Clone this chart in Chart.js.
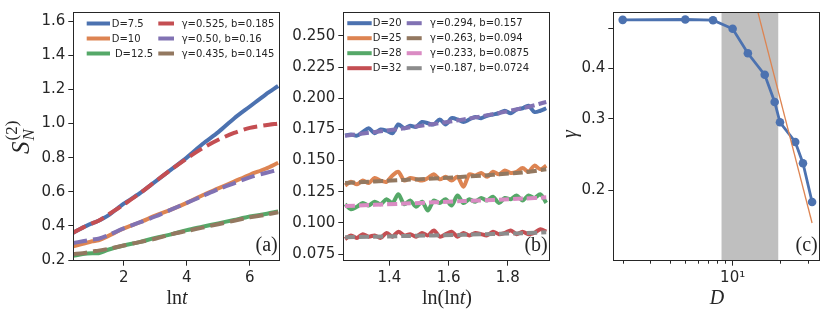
<!DOCTYPE html>
<html>
<head>
<meta charset="utf-8">
<script src="https://cdn.jsdelivr.net/npm/chart.js@4"></script>
<style>
  body { margin: 0; background: #fff; width: 830px; height: 319px; position: relative; overflow: hidden; }
  canvas { position: absolute; top: 0; }
</style>
</head>
<body>
<canvas id="ca" width="290" height="319" style="left:0px"></canvas>
<canvas id="cb" width="270" height="319" style="left:290px"></canvas>
<canvas id="cc" width="270" height="319" style="left:560px"></canvas>
<script>
// ---- panel (a): S vs ln t ----
var xA = [0.4, 0.7, 1.0, 1.2, 1.5, 2, 2.5, 3, 3.5, 4, 4.5, 5, 5.5, 6, 6.5, 6.9];
var sD75 = [0.36, 0.39, 0.415, 0.43, 0.46, 0.53, 0.59, 0.66, 0.73, 0.80, 0.88, 0.95, 1.03, 1.10, 1.17, 1.22];
var sD10 = [0.28, 0.295, 0.31, 0.315, 0.34, 0.385, 0.42, 0.46, 0.495, 0.535, 0.58, 0.62, 0.66, 0.70, 0.735, 0.77];
var sD125 = [0.225, 0.235, 0.24, 0.24, 0.26, 0.285, 0.305, 0.33, 0.35, 0.375, 0.395, 0.415, 0.435, 0.455, 0.47, 0.485];
var fitA1 = [0.36, 0.39, 0.415, 0.43, 0.465, 0.525, 0.59, 0.66, 0.73, 0.795, 0.855, 0.905, 0.945, 0.975, 0.99, 1.0];
var fitA2 = [0.30, 0.31, 0.32, 0.325, 0.345, 0.385, 0.42, 0.455, 0.495, 0.535, 0.575, 0.615, 0.65, 0.685, 0.71, 0.73];
var fitA3 = [0.235, 0.24, 0.25, 0.255, 0.265, 0.285, 0.305, 0.325, 0.35, 0.37, 0.39, 0.41, 0.43, 0.45, 0.465, 0.48];
var xTicksA = [2, 4, 6];
var yTicksA = [0.2, 0.4, 0.6, 0.8, 1.0, 1.2, 1.4, 1.6];

// ---- panel (b): S vs ln(ln t) ----
var xB = [1.25, 1.27, 1.29, 1.31, 1.33, 1.35, 1.37, 1.39, 1.41, 1.43, 1.45, 1.47, 1.49, 1.51, 1.53, 1.55, 1.57, 1.59,
          1.61, 1.63, 1.65, 1.67, 1.69, 1.71, 1.73, 1.75, 1.77, 1.79, 1.81, 1.83, 1.85, 1.87, 1.89, 1.91, 1.93];
var sD20 = [0.170, 0.171, 0.170, 0.173, 0.176, 0.172, 0.175, 0.174, 0.172, 0.179, 0.176, 0.178, 0.177, 0.181, 0.180, 0.179, 0.183, 0.179,
            0.184, 0.183, 0.181, 0.183, 0.185, 0.184, 0.186, 0.187, 0.188, 0.190, 0.188, 0.191, 0.192, 0.194, 0.189, 0.190, 0.192];
var sD25 = [0.130, 0.133, 0.131, 0.134, 0.132, 0.136, 0.134, 0.133, 0.138, 0.141, 0.134, 0.136, 0.135, 0.134, 0.136, 0.139, 0.135, 0.137,
            0.134, 0.137, 0.129, 0.139, 0.138, 0.140, 0.137, 0.141, 0.139, 0.142, 0.140, 0.141, 0.144, 0.141, 0.146, 0.143, 0.146];
var sD28 = [0.115, 0.111, 0.113, 0.116, 0.114, 0.117, 0.115, 0.119, 0.116, 0.123, 0.115, 0.118, 0.113, 0.117, 0.110, 0.118, 0.116, 0.119,
            0.114, 0.122, 0.116, 0.119, 0.117, 0.120, 0.118, 0.121, 0.116, 0.120, 0.119, 0.122, 0.118, 0.122, 0.120, 0.123, 0.116];
var sD32 = [0.087, 0.090, 0.088, 0.091, 0.089, 0.090, 0.088, 0.092, 0.089, 0.093, 0.090, 0.091, 0.089, 0.092, 0.090, 0.094, 0.089, 0.091,
            0.093, 0.089, 0.092, 0.090, 0.092, 0.091, 0.090, 0.093, 0.091, 0.092, 0.094, 0.091, 0.093, 0.091, 0.092, 0.095, 0.093];
var xFitB = [1.25, 1.45, 1.65, 1.85, 1.93];
var fitB20 = [0.170, 0.176, 0.183, 0.192, 0.197];
var fitB25 = [0.132, 0.1345, 0.137, 0.1405, 0.143];
var fitB28 = [0.1135, 0.1155, 0.1175, 0.1195, 0.1205];
var fitB32 = [0.0885, 0.0895, 0.0905, 0.0918, 0.0925];
var xTicksB = [1.4, 1.6, 1.8];
var yTicksB = [0.075, 0.100, 0.125, 0.150, 0.175, 0.200, 0.225, 0.250];

// ---- panel (c): gamma vs D (log-log) ----
var dC = [2, 5, 7.5, 10, 12.5, 16, 18.5, 20, 25, 28, 32];
var gammaC = [0.526, 0.527, 0.525, 0.50, 0.435, 0.385, 0.33, 0.294, 0.263, 0.233, 0.187];
var fitDC = [14.5, 32];
var fitGC = [0.548, 0.166];
var bandC = [8.5, 19.5];
var xTicksC = [10];
var xMinorC = [2, 3, 4, 5, 6, 7, 8, 9, 20, 30];
var yTicksC = [0.2, 0.3, 0.4, 0.5];

var INK = '#262626';
var SERIF = 'Liberation Serif';

function pts(xs, ys) {
  return xs.map(function(x, i) { return { x: x, y: ys[i] }; });
}

function line(label, xs, ys, color, dash, width) {
  return {
    label: label,
    data: pts(xs, ys),
    borderColor: color,
    backgroundColor: color,
    borderWidth: width || 4,
    borderDash: dash || [],
    pointRadius: 0,
    tension: 0.3,
    order: dash ? 1 : 2,
    fill: false
  };
}

// draw text made of several font runs (for math-like labels)
function drawRuns(ctx, t) {
  ctx.save();
  ctx.translate(t.x, t.y);
  if (t.rot) ctx.rotate(t.rot);
  ctx.fillStyle = INK;
  ctx.textBaseline = 'alphabetic';
  ctx.textAlign = 'left';
  var total = 0;
  t.parts.forEach(function(p) {
    ctx.font = p.f;
    if (!p.sameX) total += ctx.measureText(p.t).width;
  });
  var cx = t.align === 'center' ? -total / 2 : 0;
  var lastX = cx;
  t.parts.forEach(function(p) {
    ctx.font = p.f;
    var px = p.sameX ? lastX : cx;
    ctx.fillText(p.t, px, p.dy || 0);
    if (!p.sameX) { lastX = cx; cx += ctx.measureText(p.t).width + (p.gap || 0); }
  });
  ctx.restore();
}

var deco = {
  id: 'deco',
  beforeDatasetsDraw: function(chart, args, o) {
    if (!o.band) return;
    var ctx = chart.ctx, a = chart.chartArea, xs = chart.scales.x;
    var x0 = xs.getPixelForValue(o.band[0]), x1 = xs.getPixelForValue(o.band[1]);
    ctx.save();
    ctx.fillStyle = '#bfbfbf';
    ctx.fillRect(x0, a.top, x1 - x0, a.bottom - a.top);
    ctx.restore();
  },
  afterDraw: function(chart, args, o) {
    var ctx = chart.ctx, a = chart.chartArea;
    ctx.save();
    // frame
    ctx.strokeStyle = INK;
    ctx.lineWidth = 1;
    ctx.strokeRect(Math.round(a.left) + 0.5, Math.round(a.top) + 0.5,
                   Math.round(a.right - a.left) - 1, Math.round(a.bottom - a.top) - 1);
    // minor ticks on x
    if (o.minorX) {
      var xs = chart.scales.x;
      ctx.beginPath();
      o.minorX.forEach(function(v) {
        var px = Math.round(xs.getPixelForValue(v)) + 0.5;
        ctx.moveTo(px, a.bottom);
        ctx.lineTo(px, a.bottom + 3);
      });
      ctx.stroke();
    }
    // legend
    (o.legend || []).forEach(function(col) {
      col.items.forEach(function(idx, r) {
        var ds = chart.data.datasets[idx];
        var y = a.top + col.y + r * 15;
        var x0 = a.left + col.x0;
        ctx.strokeStyle = ds.borderColor;
        ctx.lineWidth = 4;
        ctx.setLineDash([]);
        ctx.beginPath();
        ctx.moveTo(x0, y);
        ctx.lineTo(x0 + col.w, y);
        ctx.stroke();
        ctx.fillStyle = INK;
        ctx.font = '10px "DejaVu Sans"';
        ctx.textBaseline = 'middle';
        ctx.textAlign = 'left';
        ctx.fillText(ds.label, a.left + col.tx, y + 0.5);
      });
    });
    ctx.restore();
    // panel tag
    if (o.tag) {
      ctx.save();
      ctx.fillStyle = INK;
      ctx.font = '20px "' + SERIF + '"';
      ctx.textAlign = 'right';
      ctx.textBaseline = 'alphabetic';
      ctx.fillText(o.tag, a.right - 3, a.bottom - 10);
      ctx.restore();
    }
    (o.texts || []).forEach(function(t) {
      var tt = Object.assign({}, t);
      if (t.x === 'mid') tt.x = (a.left + a.right) / 2;
      drawRuns(ctx, tt);
    });
  }
};
Chart.register(deco);

function scaleOpts(kind, min, max, ticks, size, fmt) {
  return {
    type: kind,
    min: min,
    max: max,
    afterBuildTicks: function(s) { s.ticks = ticks.map(function(v) { return { value: v }; }); },
    afterFit: function(s) {
      if (s.isHorizontal()) s.height = size; else s.width = size;
    },
    grid: { display: true, drawOnChartArea: false, drawTicks: true, tickLength: 5, color: INK, tickColor: INK },
    border: { display: false },
    ticks: {
      color: INK,
      font: { family: 'DejaVu Sans', size: 15 },
      padding: 3,
      maxRotation: 0,
      autoSkip: false,
      callback: fmt
    }
  };
}

function baseOptions(xs, ys, deco) {
  return {
    responsive: false,
    animation: false,
    layout: { padding: { left: 0, right: 9.3, top: 7.8, bottom: 0 } },
    plugins: { legend: { display: false }, tooltip: { enabled: false }, deco: deco },
    scales: { x: xs, y: ys }
  };
}

var C = { blue: '#4C72B0', orange: '#DD8452', green: '#55A868', red: '#C44E52',
          purple: '#8172B3', brown: '#937860', pink: '#DA8BC3', gray: '#8C8C8C' };

// panel (a)
new Chart(document.getElementById('ca'), {
  type: 'line',
  data: {
    datasets: [
      line('D=7.5', xA, sD75, C.blue),
      line('D=10', xA, sD10, C.orange),
      line(' D=12.5', xA, sD125, C.green),
      line('\u03b3=0.525, b=0.185', xA, fitA1, C.red, [14, 6]),
      line('\u03b3=0.50, b=0.16', xA, fitA2, C.purple, [14, 6]),
      line('\u03b3=0.435, b=0.145', xA, fitA3, C.brown, [14, 6])
    ]
  },
  options: baseOptions(
    scaleOpts('linear', 0.4, 6.98, xTicksA, 58.3, function(v) { return v.toFixed(0); }),
    scaleOpts('linear', 0.196, 1.654, yTicksA, 73.3, function(v) { return v.toFixed(1); }),
    {
      tag: '(a)',
      legend: [
        { items: [0, 1, 2], x0: 13.4, w: 23.3, tx: 38.4, y: 11.5 },
        { items: [3, 4, 5], x0: 85, w: 15.7, tx: 108.4, y: 11.5 }
      ],
      texts: [
        { x: 'mid', y: 304, align: 'center', parts: [
          { t: 'ln', f: '20px "' + SERIF + '"' },
          { t: 't', f: 'italic 20px "' + SERIF + '"' }] },
        { x: 29, y: 154, rot: -Math.PI / 2, parts: [
          { t: 'S', f: 'italic 25px "' + SERIF + '"', gap: 1 },
          { t: 'N', f: 'italic 17px "' + SERIF + '"', dy: 5 },
          { t: '(2)', f: '17px "' + SERIF + '"', dy: -12, sameX: true }] }
      ]
    })
});

// panel (b)
new Chart(document.getElementById('cb'), {
  type: 'line',
  data: {
    datasets: [
      line('D=20', xB, sD20, C.blue),
      line('D=25', xB, sD25, C.orange),
      line('D=28', xB, sD28, C.green),
      line('D=32', xB, sD32, C.red),
      line('\u03b3=0.294, b=0.157', xFitB, fitB20, C.purple, [10, 4]),
      line('\u03b3=0.263, b=0.094', xFitB, fitB25, C.brown, [10, 4]),
      line('\u03b3=0.233, b=0.0875', xFitB, fitB28, C.pink, [10, 4]),
      line('\u03b3=0.187, b=0.0724', xFitB, fitB32, C.gray, [10, 4])
    ]
  },
  options: baseOptions(
    scaleOpts('linear', 1.244, 1.945, xTicksB, 58.3, function(v) { return v.toFixed(1); }),
    scaleOpts('linear', 0.0697, 0.2692, yTicksB, 53.3, function(v) { return v.toFixed(3); }),
    {
      tag: '(b)',
      legend: [
        { items: [0, 1, 2, 3], x0: 4, w: 24.4, tx: 29.4, y: 11.2 },
        { items: [4, 5, 6, 7], x0: 63.4, w: 15, tx: 86.7, y: 11.2 }
      ],
      texts: [
        { x: 'mid', y: 304, align: 'center', parts: [
          { t: 'ln(ln', f: '20px "' + SERIF + '"' },
          { t: 't', f: 'italic 20px "' + SERIF + '"' },
          { t: ')', f: '20px "' + SERIF + '"' }] }
      ]
    })
});

// panel (c)
var gammaLine = line('gamma', dC, gammaC, C.blue, null, 2.8);
gammaLine.pointRadius = 4.3;
gammaLine.pointBorderWidth = 0;
gammaLine.tension = 0;
gammaLine.order = 2;
var fitLine = line('fit', fitDC, fitGC, C.orange, null, 1.3);
fitLine.tension = 0;
fitLine.order = 1;

new Chart(document.getElementById('cc'), {
  type: 'line',
  data: { datasets: [gammaLine, fitLine] },
  options: baseOptions(
    scaleOpts('logarithmic', 1.743, 36.3, xTicksC, 58.3, function(v) { return v === 10 ? '10\u00b9' : ''; }),
    scaleOpts('logarithmic', 0.134, 0.55, yTicksC, 53.3, function(v) { return v === 0.5 ? '' : v.toFixed(1); }),
    {
      tag: '(c)',
      band: bandC,
      minorX: xMinorC,
      texts: [
        { x: 'mid', y: 304, align: 'center', parts: [
          { t: 'D', f: 'italic 20px "' + SERIF + '"' }] },
        { x: 16, y: 134, rot: -Math.PI / 2, align: 'center', parts: [
          { t: '\u03b3', f: 'italic 20px "' + SERIF + '"' }] }
      ]
    })
});
</script>
</body>
</html>
